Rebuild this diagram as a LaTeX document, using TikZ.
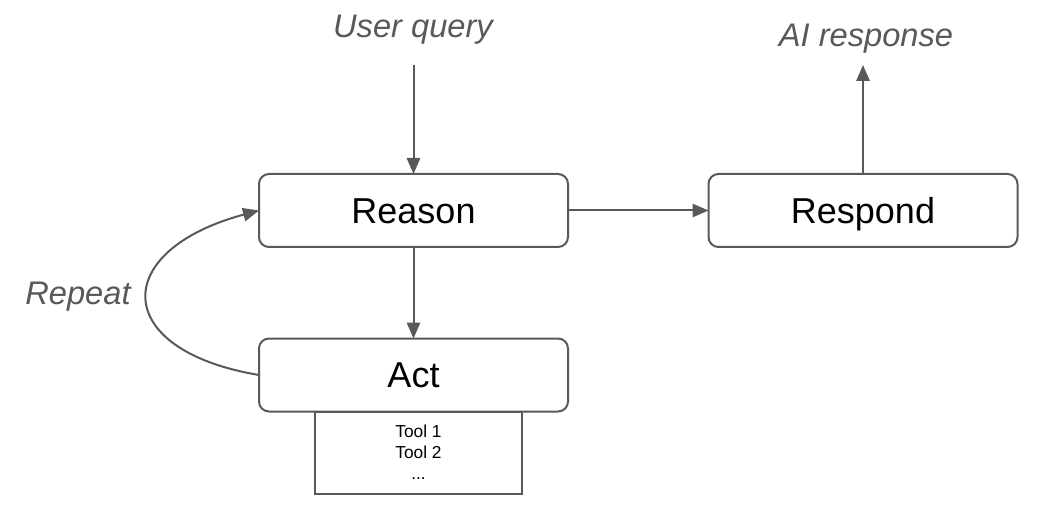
\documentclass[tikz,border=0pt]{standalone}
\usepackage{fontspec}
\setmainfont{Liberation Sans}
\usetikzlibrary{arrows.meta}
\definecolor{linegray}{RGB}{89,89,89}
\tikzset{every picture/.style={line width=1.5pt}}
\tikzset{
	stage/.style={draw=linegray, rounded corners=7.5pt, minimum width=231.75pt, minimum height=54.75pt, inner sep=0pt, outer sep=0pt, text height=19.4pt, text depth=0pt, font=\fontsize{27}{32}\selectfont},
	tool list/.style={draw=linegray, minimum width=155.25pt, minimum height=61.5pt, align=center, inner sep=0pt, outer sep=0pt, font=\fontsize{13}{15.75}\selectfont},
	flow label/.style={text=linegray, anchor=base, font=\fontsize{24.5}{29}\selectfont\itshape},
	flow arrow/.style={draw=linegray, -{Triangle[length=12pt,width=10pt]}}}

\begin{document}
\begin{tikzpicture}[x=0.75pt,y=0.75pt,yscale=-1,xscale=1]
	\useasboundingbox (0,0) rectangle (1042,513);

	% Tool list under Act
	\node [tool list] (tools) at (418.5,452.5) {Tool 1\\Tool 2\\...};
	% Stages
	\node [stage, fill=white] (reason) at (413.5,210.5) {Reason};
	\node [stage, fill=white] (act) at (413.5,375) {Act};
	\node [stage] (respond) at (863,210.5) {Respond};

	% Text Node
	\node [flow label] (query) at (413,38) {User query};
	% Text Node
	\node [flow label] (answer) at (866,47) {AI response};
	% Text Node
	\node [flow label] (repeat) at (78,305) {Repeat};
	\coordinate (query in) at (413.5,65);
	\coordinate (answer out) at (863,65);

	% Connectors
	\draw [flow arrow] (query in) -- (reason.north);
	\draw [flow arrow] (reason.south) -- (act.north);
	\draw [flow arrow] (reason.east) -- (respond.west);
	\draw [flow arrow] (respond.north) -- (answer out);
	\draw [flow arrow] (act.west) .. controls +(-149,-25) and +(-149,40) .. (reason.west);

\end{tikzpicture}
\end{document}
